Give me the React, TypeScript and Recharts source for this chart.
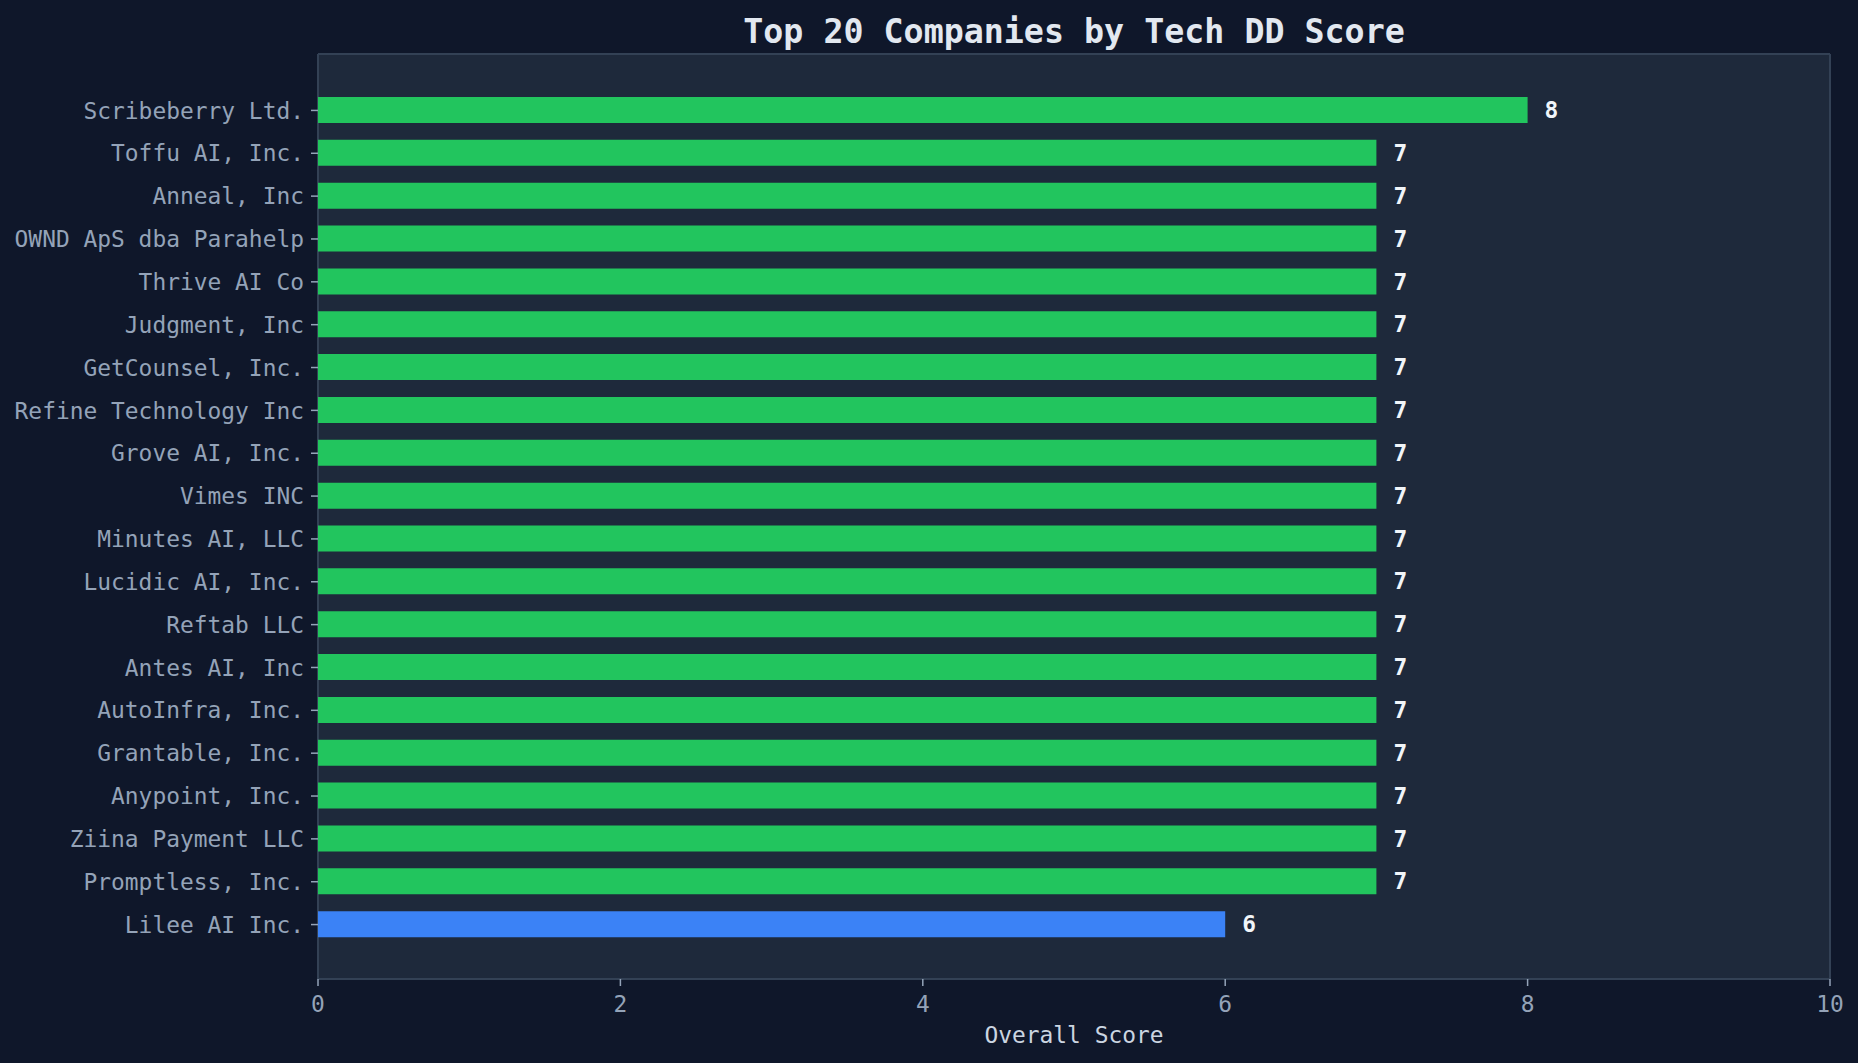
import React from "react";
import { BarChart, Bar, XAxis, YAxis, CartesianGrid, LabelList, Cell } from "recharts";

const companies = [
  "Scribeberry Ltd.",
  "Toffu AI, Inc.",
  "Anneal, Inc",
  "OWND ApS dba Parahelp",
  "Thrive AI Co",
  "Judgment, Inc",
  "GetCounsel, Inc.",
  "Refine Technology Inc",
  "Grove AI, Inc.",
  "Vimes INC",
  "Minutes AI, LLC",
  "Lucidic AI, Inc.",
  "Reftab LLC",
  "Antes AI, Inc",
  "AutoInfra, Inc.",
  "Grantable, Inc.",
  "Anypoint, Inc.",
  "Ziina Payment LLC",
  "Promptless, Inc.",
  "Lilee AI Inc.",
];

const scores = [8, 7, 7, 7, 7, 7, 7, 7, 7, 7, 7, 7, 7, 7, 7, 7, 7, 7, 7, 6];

const xTicks = [0, 2, 4, 6, 8, 10];

const data = companies.map((name, i) => ({ name, score: scores[i] }));

const MONO = "'DejaVu Sans Mono', monospace";
const BG = "#0f172a";
const PANEL = "#1e293b";
const SPINE = "#334155";
const MUTED = "#94a3b8";

function barColor(score: number) {
  return score >= 7 ? "#22c55e" : "#3b82f6";
}

// frame lines at the plot edges (matplotlib-style spines)
// eslint-disable-next-line @typescript-eslint/no-explicit-any
const frameX = ({ offset }: any) => [offset.left, offset.left + offset.width];
// eslint-disable-next-line @typescript-eslint/no-explicit-any
const frameY = ({ offset }: any) => [offset.top, offset.top + offset.height];

export default function App() {
  return (
    <div
      style={{
        position: "absolute",
        left: 0,
        top: 0,
        width: 1858,
        height: 1063,
        background: BG,
        fontFamily: MONO,
      }}
    >
      <div
        style={{
          position: "absolute",
          left: 318,
          top: 12,
          width: 1512,
          textAlign: "center",
          fontSize: 33.3,
          fontWeight: "bold",
          color: "#e2e8f0",
          lineHeight: "normal",
          whiteSpace: "nowrap",
        }}
      >
        Top 20 Companies by Tech DD Score
      </div>
      <BarChart
        width={1858}
        height={1063}
        data={data}
        layout="vertical"
        margin={{ top: 54, right: 28, left: 0, bottom: 0 }}
      >
        <CartesianGrid
          fill={PANEL}
          fillOpacity={1}
          stroke={SPINE}
          strokeWidth={2}
          verticalCoordinatesGenerator={frameX}
          horizontalCoordinatesGenerator={frameY}
        />
        <XAxis
          type="number"
          domain={[0, 10]}
          ticks={xTicks}
          height={84}
          axisLine={false}
          tickLine={{ stroke: MUTED, strokeWidth: 1.5 }}
          tickSize={7}
          tickMargin={10}
          tick={{ fontSize: 22.9, fill: MUTED, fontFamily: MONO }}
          label={{
            value: "Overall Score",
            position: "insideBottom",
            offset: 20,
            fill: "#cbd5e1",
            fontSize: 22.9,
            fontFamily: MONO,
          }}
        />
        <YAxis
          type="category"
          dataKey="name"
          width={318}
          axisLine={false}
          tickLine={{ stroke: MUTED, strokeWidth: 1.5 }}
          tickSize={7}
          tickMargin={7}
          interval={0}
          padding={{ top: 35, bottom: 33 }}
          tick={{ fontSize: 22.9, fill: MUTED, fontFamily: MONO }}
        />
        <Bar dataKey="score" barSize={26} isAnimationActive={false}>
          {data.map((d) => (
            <Cell key={d.name} fill={barColor(d.score)} />
          ))}
          <LabelList
            dataKey="score"
            position="right"
            offset={17}
            fill="#f1f5f9"
            fontSize={22.9}
            fontWeight="bold"
            fontFamily={MONO}
          />
        </Bar>
      </BarChart>
    </div>
  );
}
